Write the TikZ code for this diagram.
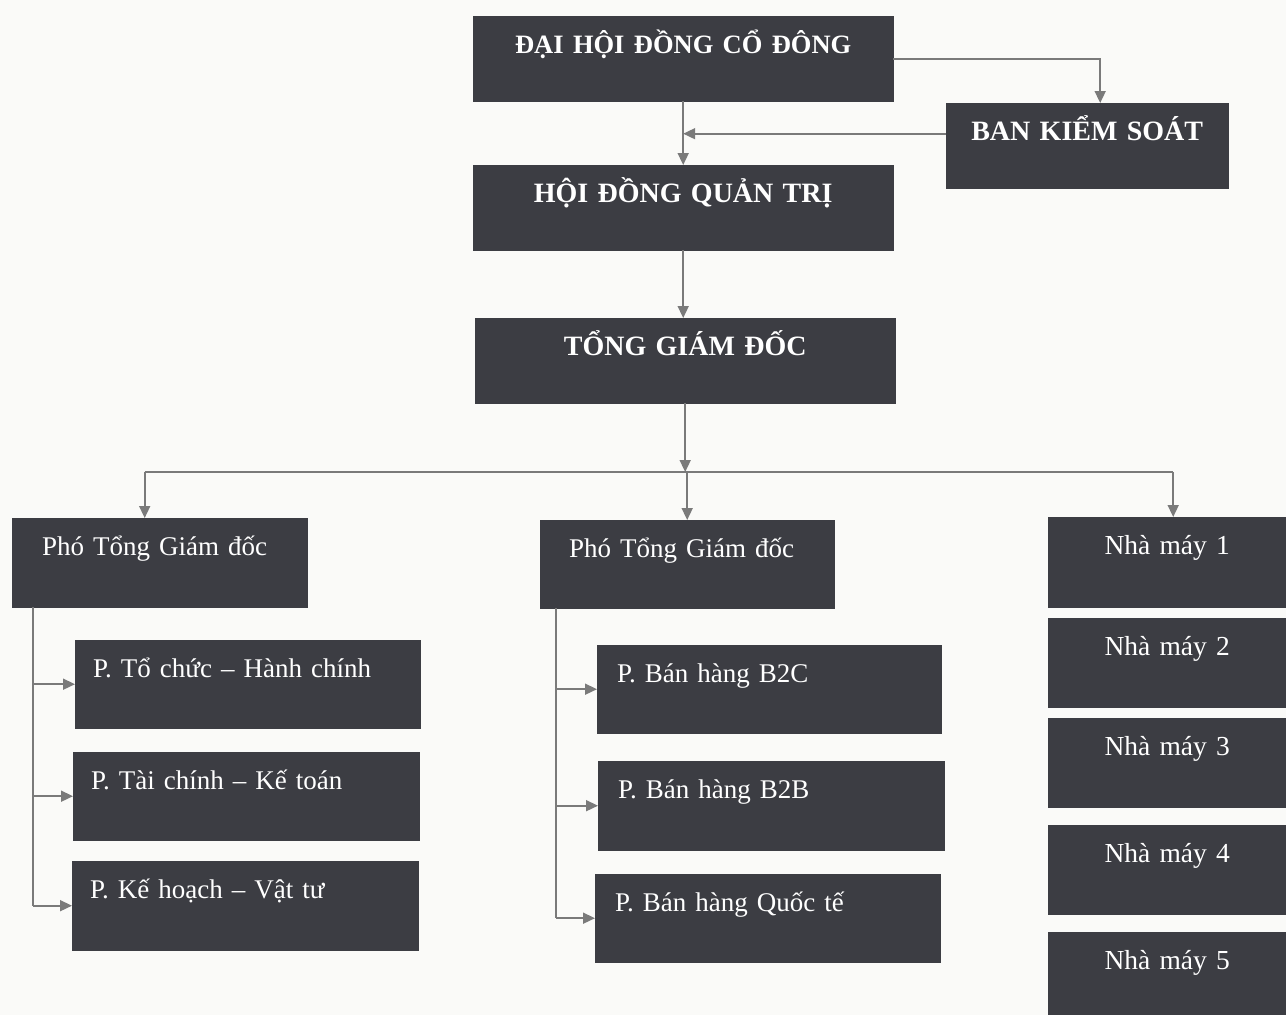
\documentclass[tikz,border=0pt]{standalone}
\usepackage{fontspec}
\setmainfont{Liberation Serif}
\usetikzlibrary{arrows.meta,calc}
\definecolor{boxfill}{HTML}{3C3D43}
\definecolor{linegray}{HTML}{7A7A7A}
\definecolor{paper}{HTML}{FAFAF8}
\begin{document}
\begin{tikzpicture}[x=1pt,y=-1pt,
  base/.style={fill=boxfill, draw=boxfill, inner ysep=0pt, text=white, anchor=north west, text height=37pt},
  ctr/.style={base, align=center, inner xsep=0pt, font=\fontsize{28}{30}\selectfont\bfseries},
  nm/.style={base, align=center, inner xsep=0pt, font=\fontsize{27.5}{30}\selectfont},
  lft/.style={base, align=left, font=\fontsize{27}{30}\selectfont},
  ln/.style={draw=linegray, line width=1.6pt},
  arr/.style={ln, -{Triangle[length=12pt,width=11pt]}}]
\fill[paper] (0,0) rectangle (1286,1015);
\useasboundingbox (0,0) rectangle (1286,1015);

% top levels
\node[ctr, text width=420pt, text depth=48pt] (dh) at (473,16) {\fontsize{26.5}{30}\selectfont ĐẠI HỘI ĐỒNG CỔ ĐÔNG};
\node[ctr, text width=282pt, text depth=48pt] (bks) at (946,103) {BAN KIỂM SOÁT};
\node[ctr, text width=420pt, text depth=48pt] (hd) at (473,165) {HỘI ĐỒNG QUẢN TRỊ};
\node[ctr, text width=420pt, text depth=48pt] (tg) at (475,318) {TỔNG GIÁM ĐỐC};

% deputies
\node[lft, inner xsep=30pt, text width=235pt, text depth=52pt] (p1) at (12,518) {Phó Tổng Giám đốc};
\node[lft, inner xsep=29pt, text width=236pt, text depth=51pt] (p2) at (540,520) {Phó Tổng Giám đốc};

% factories
\node[nm, text width=238pt, text depth=53pt] (nm1) at (1048,517) {Nhà máy 1};
\node[nm, text width=238pt, text depth=52pt] (nm2) at (1048,618) {Nhà máy 2};
\node[nm, text width=238pt, text depth=52pt] (nm3) at (1048,718) {Nhà máy 3};
\node[nm, text width=238pt, text depth=52pt] (nm4) at (1048,825) {Nhà máy 4};
\node[nm, text width=238pt, text depth=46pt] (nm5) at (1048,932) {Nhà máy 5};

% left departments
\node[lft, inner xsep=18pt, text width=309pt, text depth=51pt] (l1) at (75,640) {P. Tổ chức – Hành chính};
\node[lft, inner xsep=18pt, text width=310pt, text depth=51pt] (l2) at (73,752) {P. Tài chính – Kế toán};
\node[lft, inner xsep=18pt, text width=310pt, text depth=52pt] (l3) at (72,861) {P. Kế hoạch – Vật tư};

% middle departments
\node[lft, inner xsep=20pt, text width=304pt, text depth=51pt] (m1) at (597,645) {P. Bán hàng B2C};
\node[lft, inner xsep=20pt, text width=306pt, text depth=52pt] (m2) at (598,761) {P. Bán hàng B2B};
\node[lft, inner xsep=20pt, text width=305pt, text depth=51pt] (m3) at (595,874) {P. Bán hàng Quốc tế};

% connectors top
\coordinate (bkstop) at ([xshift=13pt]bks.north);
\draw[arr] (dh.east) -| (bkstop);
\draw[arr] (dh.south) -- (hd.north);
\coordinate (bksw) at ([yshift=12pt]bks.west);
\draw[arr] (bksw) -- (bksw -| dh.south);
\draw[arr] (hd.south) -- (hd.south |- tg.north);

% bus
\coordinate (bus) at (684,472);
\coordinate (p1top) at ([xshift=-15pt]p1.north);
\coordinate (nmtop) at ([xshift=6pt]nm1.north);
\draw[arr] (tg.south) -- (tg.south |- bus);
\draw[ln] (p1top |- bus) -- (nmtop |- bus);
\draw[arr] (p1top |- bus) -- (p1top);
\draw[arr] (p2.north |- bus) -- (p2.north);
\draw[arr] (nmtop |- bus) -- (nmtop);

% left bracket
\coordinate (lb) at ([xshift=21pt]p1.south west);
\draw[ln] (lb) -- (lb |- l3.west);
\draw[arr] (lb |- l1.west) -- (l1.west);
\draw[arr] (lb |- l2.west) -- (l2.west);
\draw[arr] (lb |- l3.west) -- (l3.west);

% middle bracket
\coordinate (mb) at ([xshift=16pt]p2.south west);
\draw[ln] (mb) -- (mb |- m3.west);
\draw[arr] (mb |- m1.west) -- (m1.west);
\draw[arr] (mb |- m2.west) -- (m2.west);
\draw[arr] (mb |- m3.west) -- (m3.west);
\end{tikzpicture}
\end{document}
